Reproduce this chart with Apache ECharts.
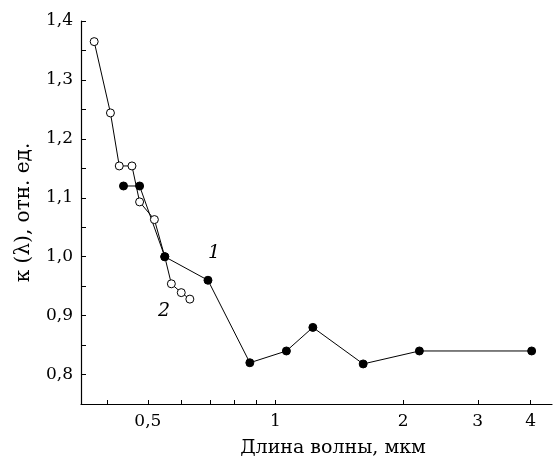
<!DOCTYPE html>
<html>
<head>
<meta charset="utf-8">
<script src="https://cdn.jsdelivr.net/npm/echarts@6/dist/echarts.min.js"></script>
<style>
  html, body { margin: 0; padding: 0; background: #fff; }
  #main { width: 553px; height: 463px; }
</style>
</head>
<body>
<div id="main"></div>
<script>
// кривая 1 (закрашенные точки): длина волны, мкм / κ
var lam1 = [0.438, 0.478, 0.548, 0.693, 0.870, 1.061, 1.225, 1.61, 2.185, 4.02];
var kap1 = [1.12, 1.12, 1.0, 0.96, 0.82, 0.84, 0.88, 0.818, 0.84, 0.84];
// кривая 2 (светлые точки)
var lam2 = [0.3735, 0.408, 0.428, 0.4586, 0.478, 0.518, 0.548, 0.568, 0.5994, 0.628];
var kap2 = [1.365, 1.244, 1.154, 1.154, 1.093, 1.063, 1.0, 0.954, 0.939, 0.928];
var xLabels = [0.5, 1, 2, 3, 4];
var xTicks = [0.4, 0.5, 0.6, 0.7, 0.8, 0.9, 1, 2, 3, 4];

function pairs(xs, ys) {
  return xs.map(function (x, i) { return [x, ys[i]]; });
}
var font = "DejaVu Serif";

var myChart = echarts.init(document.getElementById("main"));
var option = {
  animation: false,
  grid: { left: 81, right: 1, top: 21, bottom: 56 },
  xAxis: {
    type: "log",
    logBase: 10,
    min: 0.3477,
    max: 4.49,
    name: "Длина волны, мкм",
    nameLocation: "middle",
    nameGap: 35,
    nameTextStyle: { fontFamily: font, fontSize: 19, color: "#000", padding: [0, 0, 0, 33] },
    axisLine: { lineStyle: { color: "#000", width: 1.2 } },
    axisTick: { inside: true, length: 4, customValues: xTicks, lineStyle: { color: "#000" } },
    axisLabel: {
      customValues: xLabels,
      fontFamily: font, fontSize: 17, color: "#000", margin: 9,
      formatter: function (v) { return String(v).replace(".", ","); }
    },
    splitLine: { show: false },
    minorTick: { show: false }
  },
  yAxis: {
    type: "value",
    min: 0.75,
    max: 1.4,
    interval: 0.05,
    name: "κ (λ), отн. ед.",
    nameLocation: "middle",
    nameGap: 47,
    nameTextStyle: { fontFamily: font, fontSize: 20, color: "#000" },
    axisLine: { show: true, lineStyle: { color: "#000", width: 1.2 } },
    axisTick: { inside: true, length: 5, lineStyle: { color: "#000" } },
    axisLabel: {
      fontFamily: font, fontSize: 17, color: "#000", margin: 8,
      formatter: function (v) {
        var r = Math.round(v * 100);
        if (r % 10 !== 0) return "";
        return (r / 100).toFixed(1).replace(".", ",");
      }
    },
    splitLine: { show: false }
  },
  series: [
    {
      name: "2",
      type: "line",
      data: pairs(lam2, kap2),
      symbol: "circle",
      symbolSize: 8,
      lineStyle: { color: "#000", width: 1 },
      itemStyle: { color: "#fff", borderColor: "#000", borderWidth: 1 }
    },
    {
      name: "1",
      type: "line",
      data: pairs(lam1, kap1),
      symbol: "circle",
      symbolSize: 8,
      showAllSymbol: true,
      lineStyle: { color: "#000", width: 1 },
      itemStyle: { color: "#000", borderColor: "#000", borderWidth: 1 }
    }
  ],
  graphic: [
    { type: "text", left: 208, top: 244, style: { text: "1", font: "italic 19px " + font, fill: "#000" } },
    { type: "text", left: 158, top: 302, style: { text: "2", font: "italic 19px " + font, fill: "#000" } }
  ]
};
myChart.setOption(option);
</script>
</body>
</html>
